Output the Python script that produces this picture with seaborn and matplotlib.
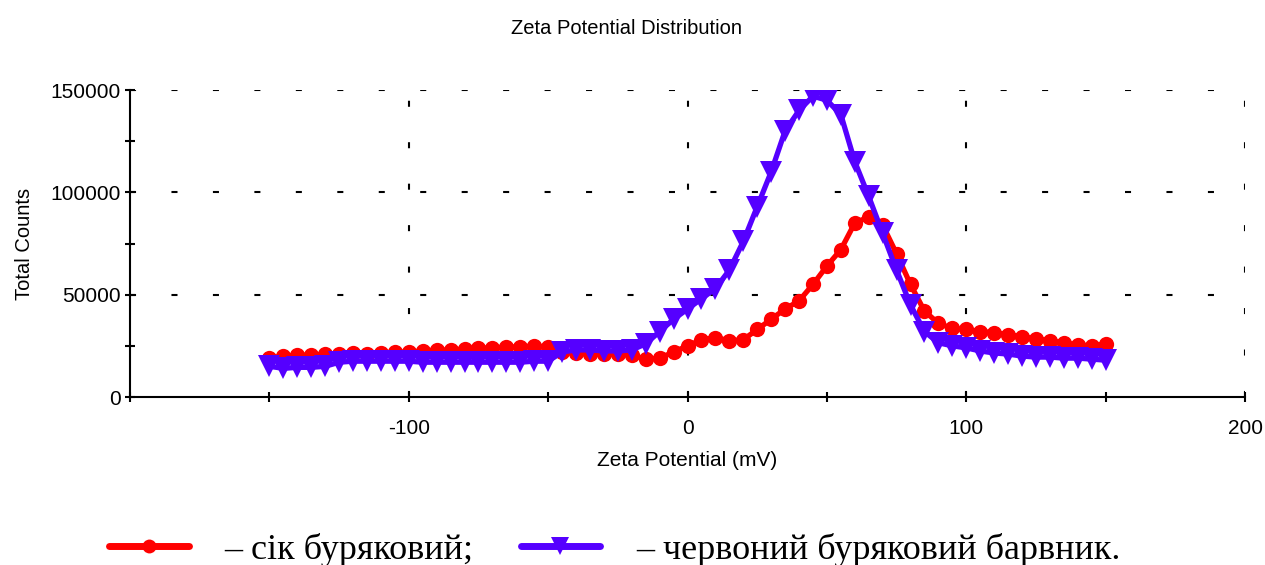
import numpy as np
import pandas as pd
import matplotlib
matplotlib.use("Agg")
import matplotlib.pyplot as plt
from matplotlib.lines import Line2D
import seaborn as sns

# ---- data ----
zeta_mv = list(range(-150, 151, 5))
juice_counts = [19000, 20000, 20500, 20500, 21000, 21000, 21500, 21000, 21500, 22000,
                22000, 22500, 23000, 23000, 23500, 24000, 24000, 24500, 24500, 25000,
                24500, 22000, 21500, 21000, 21000, 21000, 20500, 18500, 19000, 22000,
                25000, 28000, 29000, 27500, 28000, 33000, 38000, 43000, 47000, 55000,
                64000, 72000, 85000, 88000, 84000, 70000, 55000, 42000, 36000, 33500,
                33000, 32000, 31500, 30500, 29500, 28500, 27500, 26500, 25500, 25000,
                26000]
dye_counts = [15000, 14000, 14500, 14500, 15000, 17000, 17500, 17500, 17500, 17500,
              17500, 17000, 17000, 17000, 17000, 17000, 17000, 17000, 17000, 17500,
              17500, 22000, 23000, 23000, 22500, 22500, 23000, 26000, 32000, 38000,
              43000, 48000, 53000, 62000, 76000, 93000, 110000, 130000, 140000, 147000,
              145000, 138000, 115000, 98000, 80000, 62000, 45000, 32000, 26500, 25000,
              24000, 22500, 21500, 21000, 20000, 19500, 19500, 19000, 19000, 18500,
              18000]
series_names = ["сік буряковий", "червоний буряковий барвник"]
x_ticks = [-200, -150, -100, -50, 0, 50, 100, 150, 200]
x_labels = ["", "", "-100", "", "0", "", "100", "", "200"]
y_ticks = [0, 25000, 50000, 75000, 100000, 125000, 150000]
y_labels = ["0", "", "50000", "", "100000", "", "150000"]

RED = "#ff0000"
BLUE = "#5500ff"

sns.set_theme(style="white")
plt.rcParams["font.family"] = ["Liberation Sans", "DejaVu Sans"]
plt.rcParams["text.color"] = "black"
plt.rcParams["axes.labelcolor"] = "black"

fig = plt.figure(figsize=(12.65, 5.65), dpi=100)
ax = fig.add_axes([0.1028, 0.2973, 0.8814, 0.5434])

df_juice = pd.DataFrame({"x": zeta_mv, "y": juice_counts})
df_dye = pd.DataFrame({"x": zeta_mv, "y": dye_counts})

sns.lineplot(data=df_juice, x="x", y="y", ax=ax, color=RED, lw=3.8,
             marker="o", markersize=11, markeredgewidth=0, zorder=3)
sns.lineplot(data=df_dye, x="x", y="y", ax=ax, color=BLUE, lw=3.8,
             marker="v", markersize=16, markeredgewidth=0, zorder=4)

ax.set_xlim(-200, 200)
ax.set_ylim(0, 150000)
ax.set_xticks(x_ticks)
ax.set_xticklabels(x_labels)
ax.set_yticks(y_ticks)
ax.set_yticklabels(y_labels)
ax.tick_params(axis="both", direction="inout", length=7, width=1.5,
               colors="black", labelsize=15, bottom=True, left=True)
ax.tick_params(axis="x", pad=12)
ax.tick_params(axis="y", pad=3)

for s in ["top", "right"]:
    ax.spines[s].set_visible(False)
for s in ["left", "bottom"]:
    ax.spines[s].set_color("black")
    ax.spines[s].set_linewidth(1.5)

dash = (0, (2.9, 17))
for yv in [50000, 100000, 150000]:
    ax.axhline(yv, color="black", lw=1.5, ls=dash, zorder=1)
for xv in [-100, 0, 100, 200]:
    ax.axvline(xv, color="black", lw=1.5, ls=dash, zorder=1)

ax.set_xlabel("Zeta Potential (mV)", fontsize=15, labelpad=10)
ax.set_ylabel("Total Counts", fontsize=14.5, labelpad=12)
fig.text(0.495, 0.95, "Zeta Potential Distribution", fontsize=14.5,
         ha="center", va="center")

handles = [
    Line2D([], [], color=RED, lw=5, marker="o", markersize=10, markeredgewidth=0),
    Line2D([], [], color=BLUE, lw=5, marker="v", markersize=13, markeredgewidth=0),
]
labels = ["– " + series_names[0] + ";", "– " + series_names[1] + "."]
fig.legend(handles, labels, loc="center", bbox_to_anchor=(0.486, 0.027), ncol=2,
           frameon=False, prop={"family": ["Liberation Serif"], "size": 26},
           handlelength=2.2, handletextpad=1.0, columnspacing=1.3,
           labelcolor="black")

fig.savefig("out.png", dpi=100, facecolor="white")
